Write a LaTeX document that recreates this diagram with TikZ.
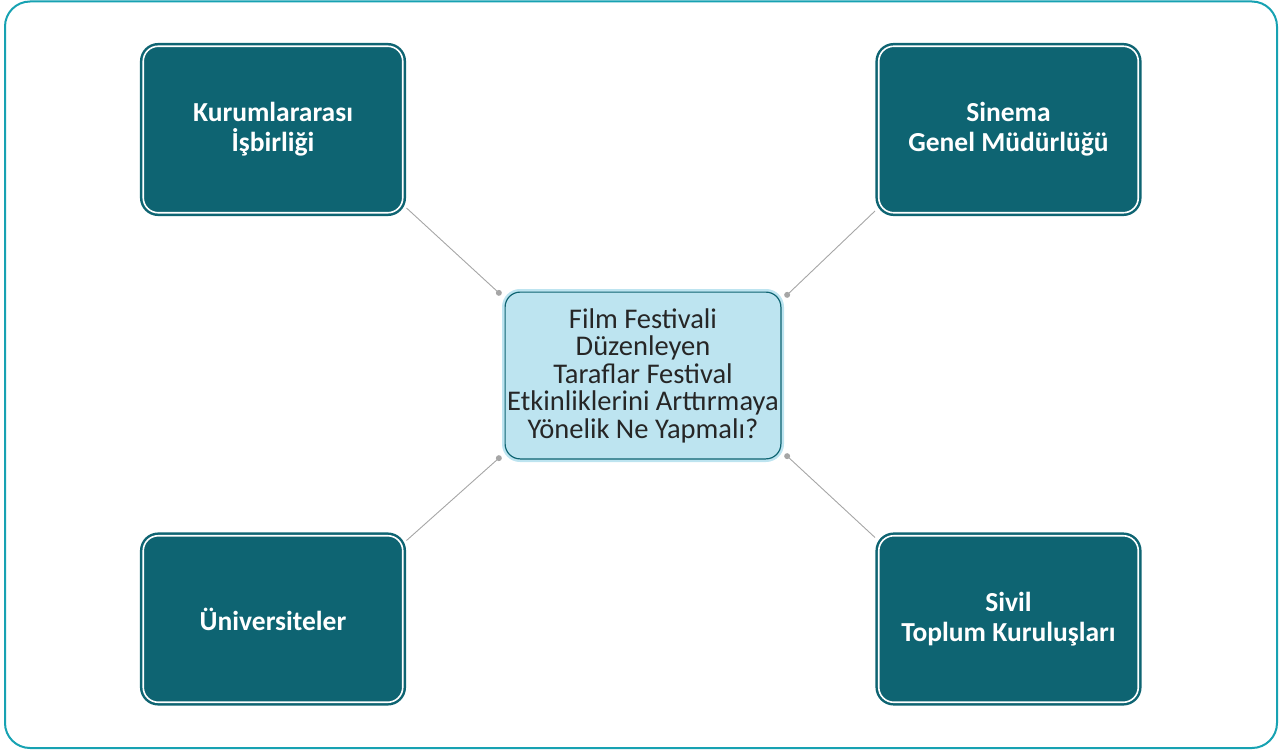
\documentclass[tikz,border=0pt]{standalone}
\usepackage{fontspec}
\setmainfont{Carlito}
\usetikzlibrary{calc}
\definecolor{frame}{HTML}{17A2B2}
\definecolor{dark}{HTML}{0E6472}
\definecolor{light}{HTML}{BDE4F0}
\definecolor{conn}{HTML}{A6A6A6}
\definecolor{txt}{HTML}{262626}
\tikzset{
  outerbox/.style={draw=dark, fill=dark, line width=2.5pt, double=white, double distance=1.6pt,
    rounded corners=15pt, minimum width=259.5pt, minimum height=166.5pt,
    text=white, align=center, font=\fontsize{27.5}{30}\selectfont\bfseries, inner sep=0pt},
  centerbox/.style={draw=light, fill=light, line width=2.5pt, double=dark, double distance=1.2pt,
    rounded corners=15pt, minimum width=275.8pt, minimum height=166.8pt,
    text=txt, align=center, font=\fontsize{28.5}{27.5}\selectfont, inner sep=0pt},
  connector/.style={draw=conn, line width=0.9pt},
  dot/.style={circle, fill=conn, inner sep=0pt, minimum size=6pt}
}
\begin{document}
\begin{tikzpicture}[x=1pt,y=-1pt]
\useasboundingbox (0,0) rectangle (1282,752);
\draw[frame, line width=2pt, rounded corners=25pt] (5,1.5) rectangle (1277,748);
\node[outerbox] (tl) at (273,129.5) {Kurumlararası\\İşbirliği};
\node[outerbox] (tr) at (1008.5,129.5) {Sinema\\Genel Müdürlüğü};
\node[outerbox] (bl) at (273,619) {Üniversiteler};
\node[outerbox] (br) at (1008.5,619) {Sivil\\Toplum Kuruluşları};
\node[centerbox] (c) at (643,375.5) {Film Festivali\\Düzenleyen\\Taraflar Festival\\Etkinliklerini Arttırmaya\\Yönelik Ne Yapmalı?};
\coordinate (ctl) at ([shift={(-5,2)}]c.north west);
\coordinate (ctr) at ([shift={(5,4)}]c.north east);
\coordinate (cbl) at ([shift={(-5,-2)}]c.south west);
\coordinate (cbr) at ([shift={(5,-4)}]c.south east);
\draw[connector] ([shift={(2.5,-6)}]tl.south east) -- (ctl);
\draw[connector] ([shift={(-2.5,-3)}]tr.south west) -- (ctr);
\draw[connector] ([shift={(2.5,6)}]bl.north east) -- (cbl);
\draw[connector] ([shift={(-2.5,3)}]br.north west) -- (cbr);
\node[dot] (d1) at (ctl) {};
\node[dot] (d2) at (ctr) {};
\node[dot] (d3) at (cbl) {};
\node[dot] (d4) at (cbr) {};
\end{tikzpicture}
\end{document}
